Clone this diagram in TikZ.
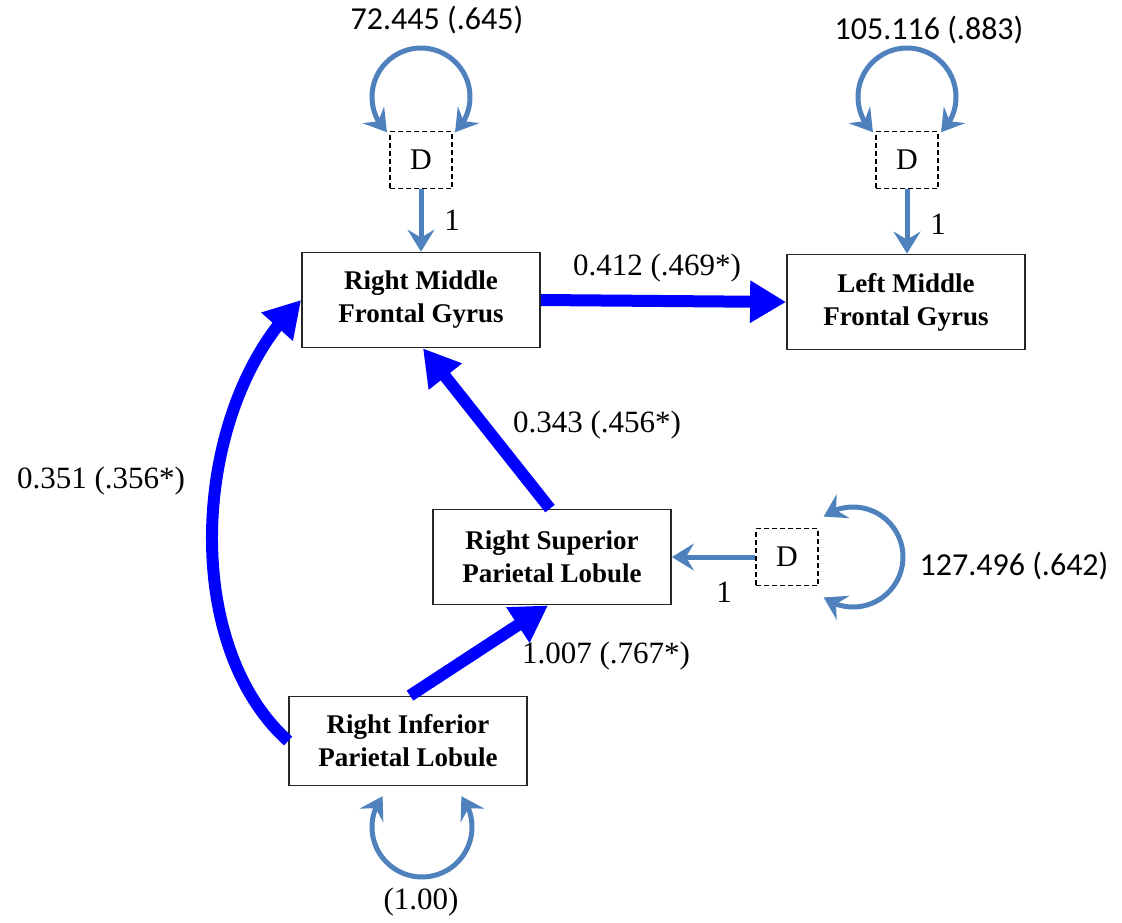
\documentclass[tikz,border=0pt]{standalone}
\usepackage{fontspec}
\setmainfont{Liberation Serif}
\newfontfamily\calfont{Carlito}
\usetikzlibrary{arrows.meta,bending}
\definecolor{steel}{HTML}{4F81BD}
\definecolor{pblue}{HTML}{0000FF}
\begin{document}
\begin{tikzpicture}[x=1pt,y=1pt,
  varbox/.style={draw=black!85, line width=1.8pt, fill=white, minimum width=238pt, minimum height=95pt,
    align=center, inner sep=0pt, font=\fontsize{27}{33}\selectfont\bfseries},
  dbox/.style={draw=black, dash pattern=on 5pt off 3pt, line width=1.3pt, minimum width=62pt,
    minimum height=57pt, inner sep=0pt, font=\fontsize{30}{36}\selectfont},
  bluearrow/.style={draw=pblue, line width=12pt, -{Triangle[length=36pt,width=40pt]}},
  steelarrow/.style={draw=steel, line width=5pt, -{Stealth[length=22pt,width=27pt,inset=8pt]}},
  steelloop/.style={draw=steel, line width=5pt,
    {Stealth[length=22pt,width=27pt,inset=8pt,flex]}-{Stealth[length=22pt,width=27pt,inset=8pt,flex]}},
  coef/.style={inner sep=0pt, font=\fontsize{31}{36}\selectfont},
  varlab/.style={inner sep=0pt, font=\calfont\fontsize{32}{38}\selectfont}
]
\useasboundingbox (0,0) rectangle (1122,-922);

% variable boxes
\node[varbox] (rmfg) at (421,-300) {Right Middle\\Frontal Gyrus};
\node[varbox] (lmfg) at (906,-302) {Left Middle\\Frontal Gyrus};
\node[varbox] (rspl) at (552,-557) {Right Superior\\Parietal Lobule};
\node[varbox, minimum height=89pt] (ripl) at (408,-741) {Right Inferior\\Parietal Lobule};

% disturbance boxes
\node[dbox] (d1) at (421,-160) {D};
\node[dbox] (d2) at (907,-160) {D};
\node[dbox] (d3) at (787,-557) {D};

% disturbance paths
\draw[steelarrow] (d1.south) -- (rmfg.north);
\draw[steelarrow] (d2.south) -- (d2.south |- lmfg.north);
\draw[steelarrow] (d3.west) -- (rspl.east);

% variance loops
\coordinate (c1) at (421,-97);
\coordinate (c2) at (907,-97);
\coordinate (c3) at (853,-557);
\coordinate (c4) at (422,-827);
\draw[steelloop] ([shift={(226:49)}]c1) arc[start angle=226, end angle=-46, radius=49];
\draw[steelloop] ([shift={(226:49)}]c2) arc[start angle=226, end angle=-46, radius=49];
\draw[steelloop] ([shift={(126:50)}]c3) arc[start angle=126, end angle=-126, radius=50];
\draw[steelloop] ([shift={(142:50)}]c4) arc[start angle=142, end angle=398, radius=50];

% structural paths
\draw[bluearrow] (rmfg.east) -- (lmfg.west);
\draw[bluearrow] ([xshift=-2pt]rspl.north) -- ([xshift=2pt]rmfg.south);
\draw[bluearrow] ([xshift=2pt]ripl.north) -- ([xshift=-4pt]rspl.south);
\draw[bluearrow] (ripl.west) .. controls (176,-640) and (194,-400) .. (rmfg.west);

% labels
\node[varlab] (v1) at (437,-20) {72.445 (.645)};
\node[varlab] (v2) at (929,-30) {105.116 (.883)};
\node[varlab] (v3) at (1014,-566) {127.496 (.642)};
\node[coef] (v4) at (421,-902) {(1.00)};

\node[coef] (p1) at (657,-268) {0.412 (.469*)};
\node[coef] (p2) at (597,-425) {0.343 (.456*)};
\node[coef] (p3) at (101,-481) {0.351 (.356*)};
\node[coef] (p4) at (606,-656) {1.007 (.767*)};

\node[coef] (o1) at (452,-220) {1};
\node[coef] (o2) at (938,-224) {1};
\node[coef] (o3) at (724,-592) {1};
\end{tikzpicture}
\end{document}
